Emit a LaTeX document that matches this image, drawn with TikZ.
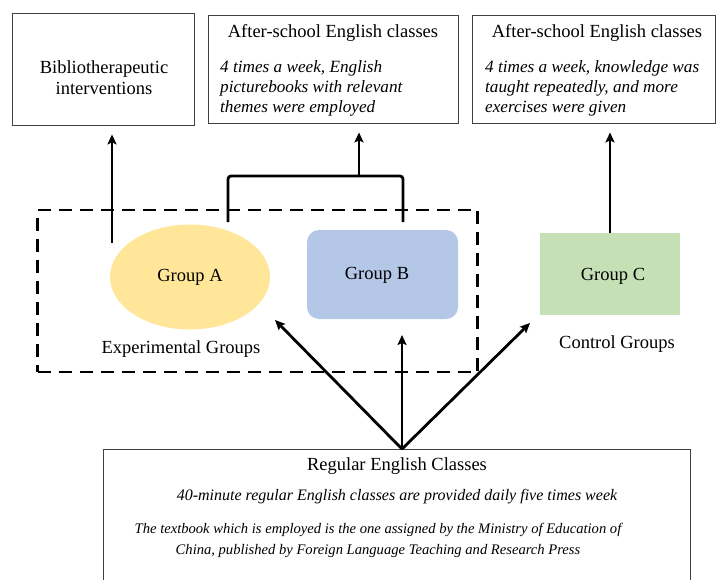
\documentclass[tikz,border=0pt]{standalone}
\usepackage{fontspec}
\setmainfont{Liberation Serif}
\usetikzlibrary{arrows.meta,shapes.geometric}
\definecolor{ayellow}{HTML}{FFE699}
\definecolor{bblue}{HTML}{B4C7E7}
\definecolor{cgreen}{HTML}{C5E0B4}
\begin{document}
\begin{tikzpicture}[x=1pt,y=-1pt,
  boxframe/.style={draw=black!75,line width=0.8pt,inner sep=0pt},
  conn/.style={line width=2.8pt,-{Stealth[length=10pt,width=9pt,inset=2pt]}},
  reg/.style={font=\fontsize{18.5}{21}\selectfont,inner sep=0pt},
  ital/.style={font=\itshape\fontsize{17.2}{20}\selectfont,inner sep=0pt,align=left},
  itb/.style={font=\itshape\fontsize{16}{19}\selectfont,inner sep=0pt,align=center},
  itc/.style={font=\itshape\fontsize{14.6}{21}\selectfont,inner sep=0pt,align=center}]
\clip (0,0) rectangle (717,580);
\fill[white] (0,0) rectangle (717,580);

% top boxes
\node[boxframe,minimum width=182pt,minimum height=112pt] (bib) at (103,69) {};
\node[reg,align=center] (bibt) at (104,78) {Bibliotherapeutic\\interventions};
\node[boxframe,minimum width=250pt,minimum height=108pt] (as1) at (333,69) {};
\node[reg] (as1t) at (333,33) {After-school English classes};
\node[ital,anchor=west] (as1d) at (220,88) {4 times a week, English\\picturebooks with relevant\\themes were employed};
\node[boxframe,minimum width=243pt,minimum height=108pt] (as2) at (593.5,69) {};
\node[reg] (as2t) at (597,33) {After-school English classes};
\node[ital,anchor=west] (as2d) at (485,88) {4 times a week, knowledge was\\taught repeatedly, and more\\exercises were given};

% experimental group frame
\node[draw,line width=2.8pt,dash pattern=on 13pt off 8pt,minimum width=440pt,minimum height=162pt,inner sep=0pt] (exp) at (257.5,291) {};
\node[ellipse,fill=ayellow,minimum width=160pt,minimum height=105pt,inner sep=0pt] (ga) at (190,277) {};
\node[reg] (gat) at (190,277) {Group A};
\node[fill=bblue,rounded corners=12pt,minimum width=151pt,minimum height=89pt,inner sep=0pt] (gb) at (382.5,274.5) {};
\node[reg] (gbt) at (377,275) {Group B};
\node[fill=cgreen,minimum width=140pt,minimum height=82pt,inner sep=0pt] (gc) at (610,274) {};
\node[reg] (gct) at (613,276) {Group C};
\node[reg] (expl) at (181,349) {Experimental Groups};
\node[reg] (ctl) at (617,344) {Control Groups};

% bottom box
\node[boxframe,minimum width=587pt,minimum height=160pt] (reg) at (396.5,529) {};
\node[reg] (regt) at (397,466) {Regular English Classes};
\node[itb] (regd1) at (397,497) {40-minute regular English classes are provided daily five times week};
\node[itc] (regd2) at (378,540.5) {The textbook which is employed is the one assigned by the Ministry of Education of\\China, published by Foreign Language Teaching and Research Press};

% connectors
\coordinate (aTop) at (112,243);
\draw[conn,shorten >=9pt] (aTop) -- (aTop |- bib.south);
\coordinate (brL) at (228,222);
\coordinate (brR) at (403,222);
\coordinate (brM) at (359,176);
\draw[line width=2.8pt,rounded corners=3pt] (brL) -- (brL |- brM) -- (brR |- brM) -- (brR);
\draw[conn,shorten >=9pt] (brM) -- (brM |- as1.south);
\coordinate (cTop) at (610,233);
\draw[conn,shorten >=9pt] (cTop) -- (cTop |- as2.south);
\coordinate (src) at (402,449);
\coordinate (tA) at (275,320);
\coordinate (tB) at (402,335);
\coordinate (tC) at (530,323);
\draw[conn] (src) -- (tA);
\draw[conn] (src) -- (tB);
\draw[conn] (src) -- (tC);
\end{tikzpicture}
\end{document}
